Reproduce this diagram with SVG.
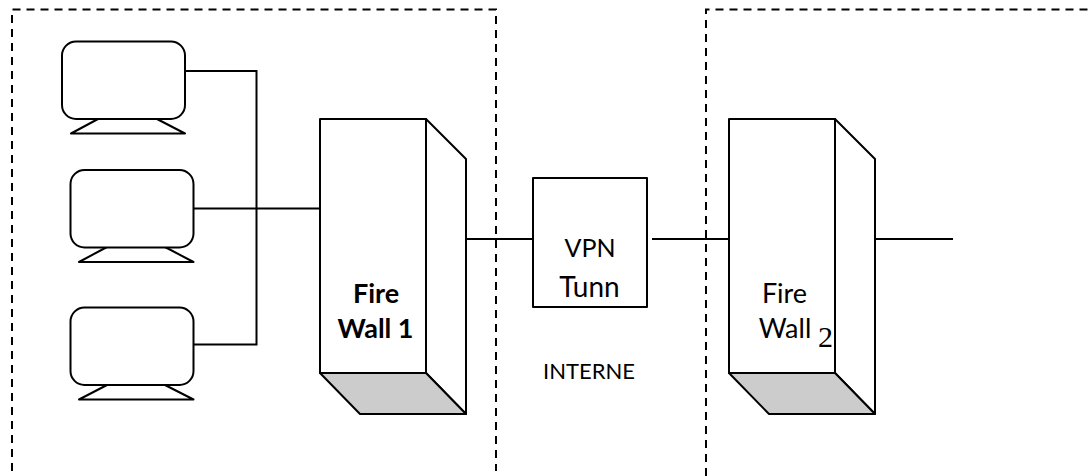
<svg xmlns="http://www.w3.org/2000/svg" width="1090" height="476" viewBox="0 0 1090 476">
<style>
.s{fill:#fff;stroke:#000;stroke-width:2;stroke-linejoin:round}
.l{fill:none;stroke:#000;stroke-width:2}
.d{fill:none;stroke:#000;stroke-width:2;stroke-dasharray:8 6}
.g{fill:#ccc;stroke:#000;stroke-width:2;stroke-linejoin:round}
.t{font-family:Lato,"Liberation Sans",sans-serif;font-size:27px;fill:#000}
.b{font-weight:700}
</style>
<rect width="1090" height="476" fill="#fff"/>
<g id="zones">
<path class="d" d="M12 471V9.5H496V471"/>
<path class="d" d="M706 476V9.5H1090"/>
</g>
<g id="connectors">
<path class="l" d="M185 71H256.500V344.500H193.500"/>
<path class="l" d="M193.500 208.500H320"/>
<path class="l" d="M466 239H533"/>
<path class="l" d="M652 239H729"/>
<path class="l" d="M875 239H953"/>
</g>
<g id="monitor-1">
<path class="s" d="M98 119L71 133.500H185L157 119Z"/>
<rect class="s" x="62" y="41.500" width="123" height="77.500" rx="14"/>
</g>
<g id="monitor-2">
<path class="s" d="M107 247L79 262H193.500L165 247Z"/>
<rect class="s" x="70.500" y="170" width="123" height="77.500" rx="14"/>
</g>
<g id="monitor-3">
<path class="s" d="M107 385L79 399.500H193.500L165 385Z"/>
<rect class="s" x="70.500" y="307.500" width="123" height="77.500" rx="14"/>
</g>
<g id="firewall-1">
<path class="s" d="M426 119L466 159V414L426 373Z"/>
<path class="g" d="M320 373H426L466 414H360Z"/>
<rect class="s" x="320" y="119" width="106" height="254"/>
<text class="t b" x="376" y="303" text-anchor="middle">Fire</text>
<text class="t b" x="375.500" y="338" text-anchor="middle">Wall 1</text>
</g>
<g id="vpn-tunnel">
<rect class="s" x="533" y="178" width="114" height="129"/>
<text class="t" x="590" y="257" text-anchor="middle" style="font-size:25px">VPN</text>
<text class="t" x="589.500" y="297" text-anchor="middle" style="font-size:28px">Tunn</text>
</g>
<g id="internet-label">
<text class="t" x="589" y="379" text-anchor="middle" style="font-size:22px">INTERNE</text>
</g>
<g id="firewall-2">
<path class="s" d="M835 119L875 159V414L835 373Z"/>
<path class="g" d="M729 373H835L875 414H769Z"/>
<rect class="s" x="729" y="119" width="106" height="254"/>
<text class="t" x="784.500" y="303" text-anchor="middle">Fire</text>
<text class="t" x="785" y="338" text-anchor="middle">Wall</text>
<text x="825.500" y="347" text-anchor="middle" style="font-family:'Liberation Serif',serif;font-size:30px">2</text>
</g>
</svg>
